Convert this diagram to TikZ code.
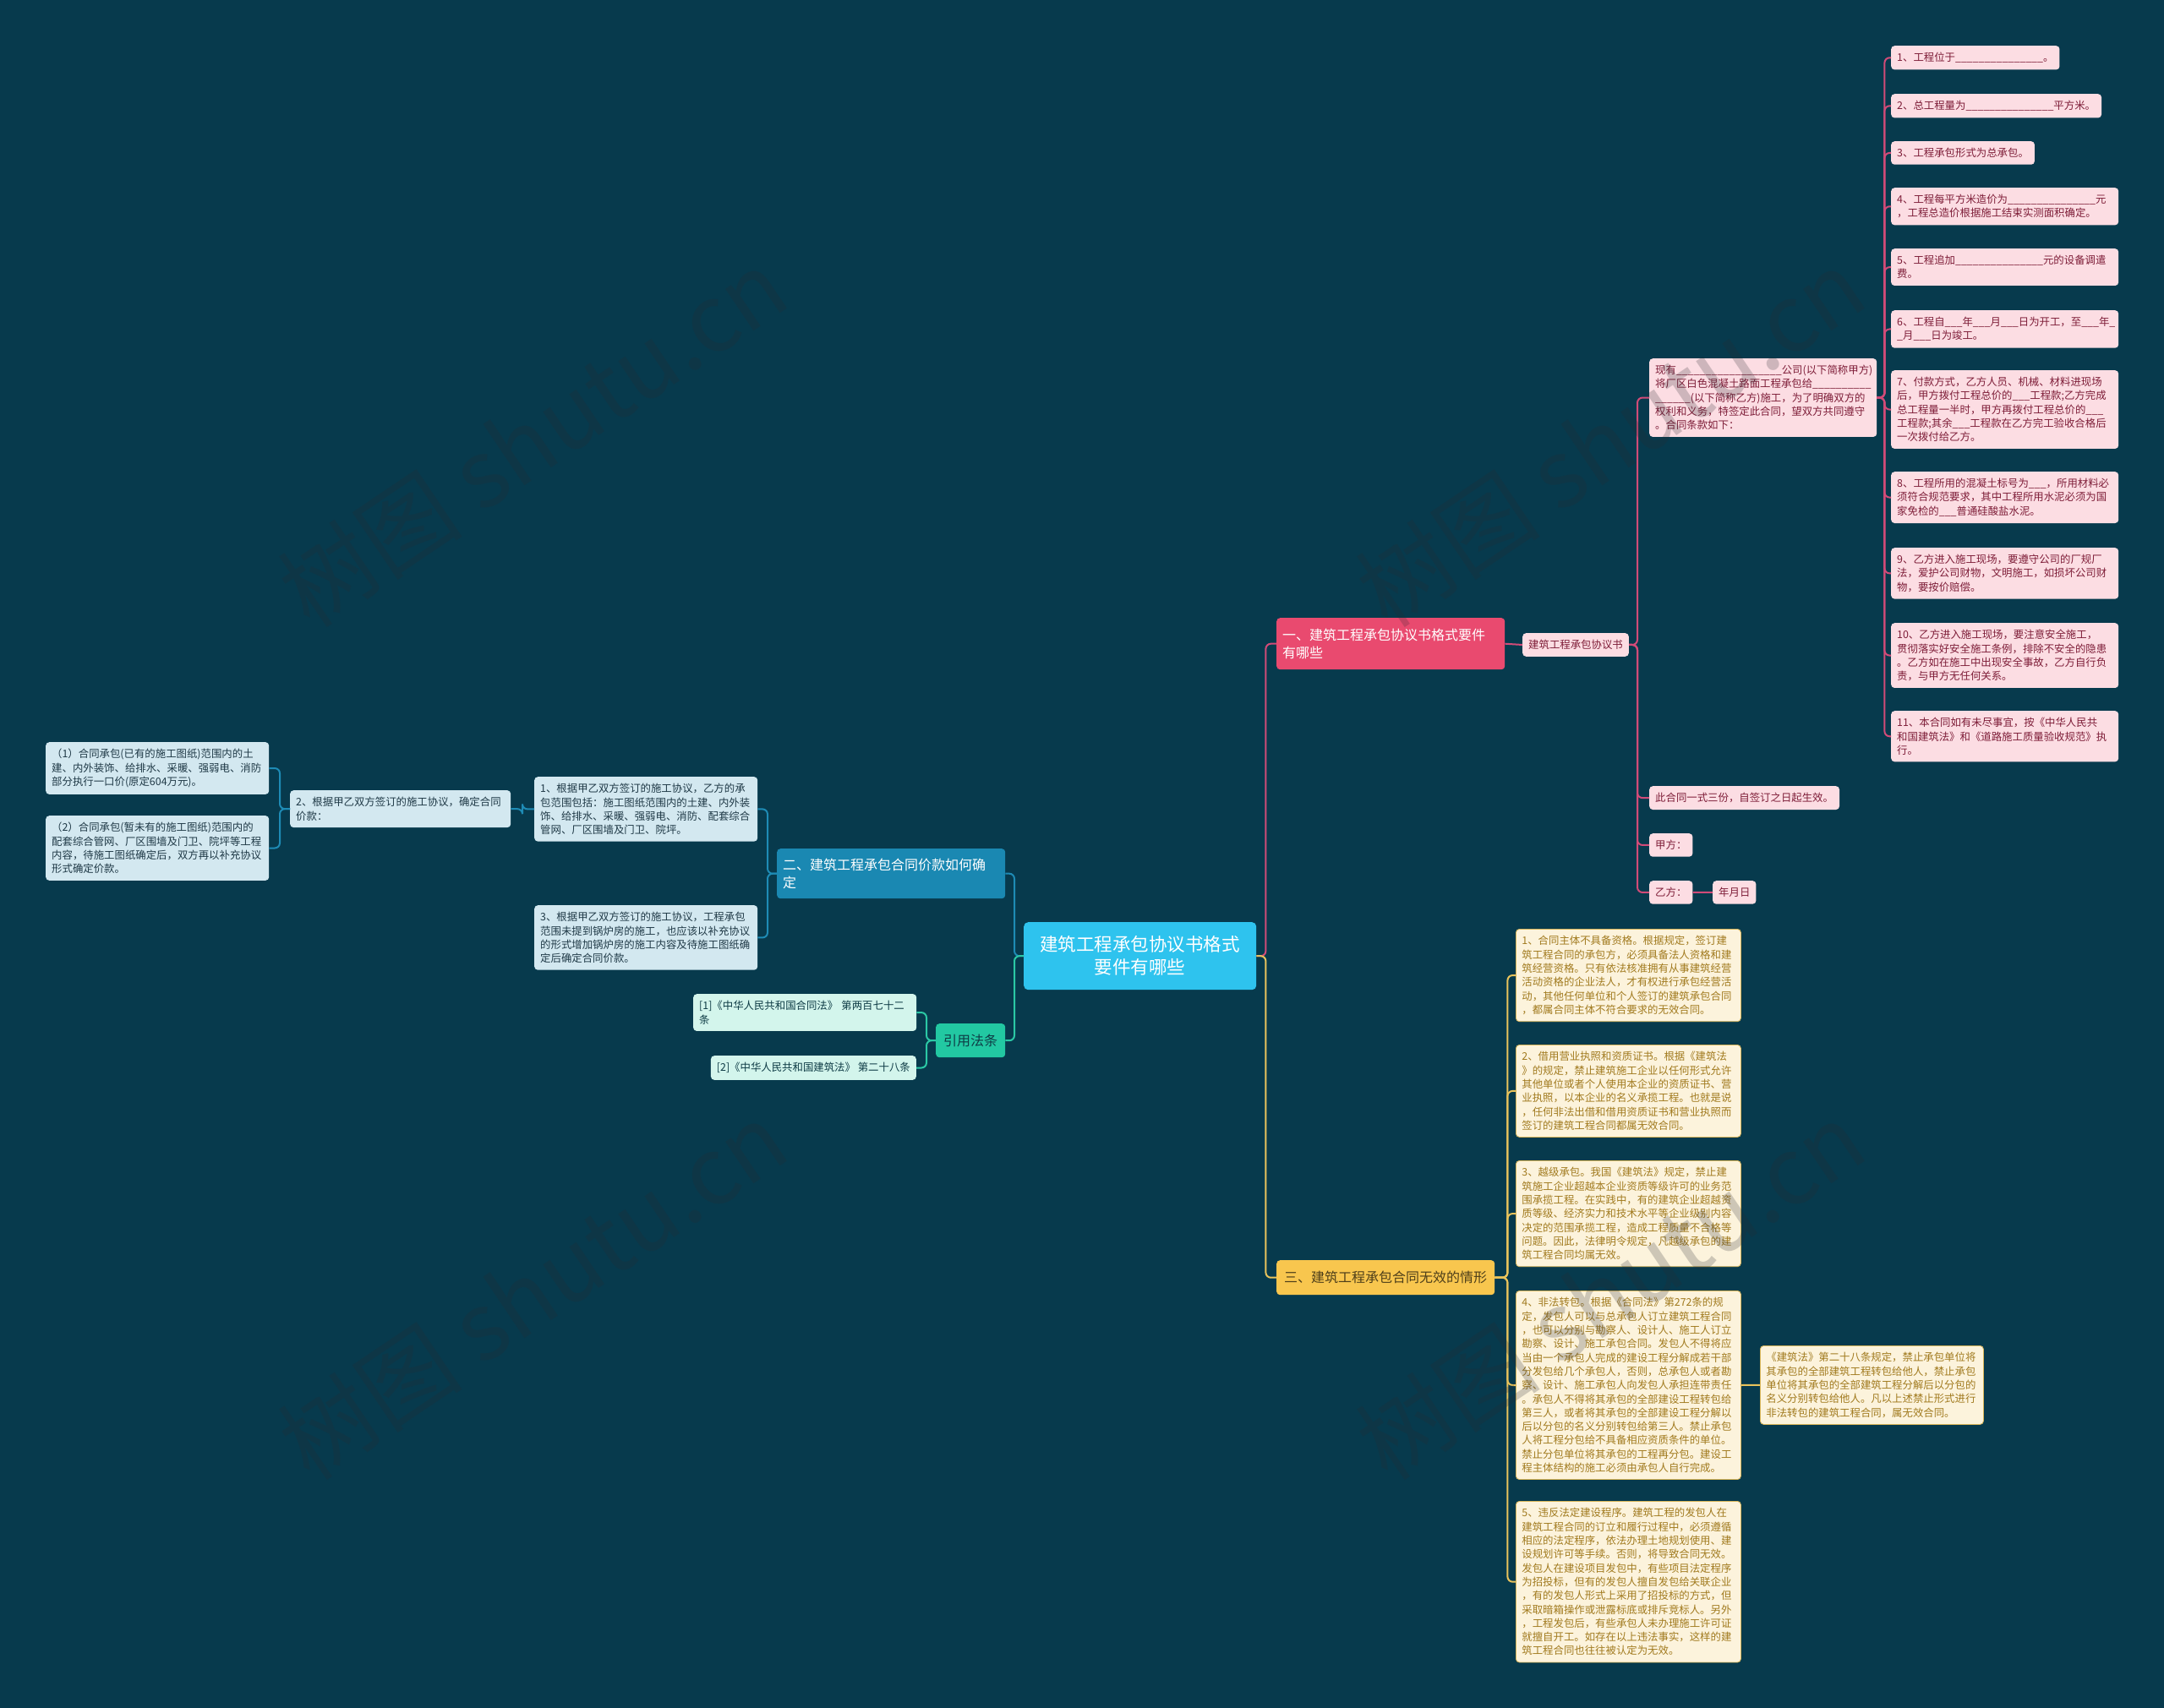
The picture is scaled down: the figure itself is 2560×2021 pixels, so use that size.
\documentclass[tikz,border=0pt]{standalone}
\usepackage{fontspec}
\setmainfont{Noto Sans CJK SC}
\ExplSyntaxOn
\cs_new:Npn \blanks #1 { \prg_replicate:nn {#1} { \textunderscore } }
\ExplSyntaxOff
\definecolor{cBg}{HTML}{073A4D}
\definecolor{cCenter}{HTML}{2EC3EE}
\definecolor{cRed}{HTML}{E94A6F}
\definecolor{cPinkFill}{HTML}{FCDDE3}
\definecolor{cPinkText}{HTML}{7E1D38}
\definecolor{cPinkLine}{HTML}{D14B78}
\definecolor{cYel}{HTML}{F8C64E}
\definecolor{cYelText}{HTML}{4E3F1A}
\definecolor{cGoldFill}{HTML}{FCF3DC}
\definecolor{cGoldText}{HTML}{A17A1E}
\definecolor{cGoldBorder}{HTML}{D9B65A}
\definecolor{cGoldLine}{HTML}{E9C35C}
\definecolor{cBlueHead}{HTML}{1A88B2}
\definecolor{cBlueFill}{HTML}{D3E8F0}
\definecolor{cBlueText}{HTML}{1F3946}
\definecolor{cBlueLine}{HTML}{1E8BB5}
\definecolor{cGreen}{HTML}{22C8A2}
\definecolor{cGreenFill}{HTML}{D3F5EC}
\definecolor{cGreenText}{HTML}{0E3B45}
\definecolor{cGreenLine}{HTML}{2BC8A5}
\definecolor{cMark}{HTML}{2A2A30}
\tikzset{
  mmbase/.style={rounded corners=4pt, anchor=north west, align=left, inner xsep=7pt, inner ysep=8pt, font=\fontsize{12.4}{16.3}\selectfont},
  pinkbox/.style={mmbase, fill=cPinkFill, text=cPinkText},
  goldbox/.style={mmbase, fill=cGoldFill, text=cGoldText, draw=cGoldBorder, line width=0.8pt},
  bluebox/.style={mmbase, fill=cBlueFill, text=cBlueText},
  greenbox/.style={mmbase, fill=cGreenFill, text=cGreenText},
  headbox/.style={rounded corners=4pt, anchor=north west, align=left, inner xsep=7pt, inner ysep=4pt, font=\fontsize{16}{20.5}\selectfont},
  plink/.style={draw=cPinkLine, line width=2pt, rounded corners=6pt},
  glink/.style={draw=cGoldLine, line width=2pt, rounded corners=6pt},
  blink/.style={draw=cBlueLine, line width=2pt, rounded corners=6pt},
  tlink/.style={draw=cGreenLine, line width=2pt, rounded corners=6pt},
  wmark/.style={rotate=34, text=cMark, opacity=0.22, font=\fontsize{110}{110}\selectfont}
}
\begin{document}
\begin{tikzpicture}[x=1pt,y=-1pt]
\fill[cBg] (0,0) rectangle (2560,2021);
\useasboundingbox (0,0) rectangle (2560,2021);

% centre
\node[rounded corners=5pt, anchor=north west, fill=cCenter, text=white, align=center,
  minimum width=275pt, minimum height=80pt, font=\fontsize{21.5}{27}\selectfont]
  (center) at (1211,1091) {建筑工程承包协议书格式\\要件有哪些};

% headings
\node[headbox, fill=cRed, text=white, text width=256pt, minimum height=61pt] (red) at (1510,731)
  {一、建筑工程承包协议书格式要件\\有哪些};
\node[headbox, fill=cYel, text=cYelText, minimum width=258pt, minimum height=41pt] (yel) at (1510,1491)
  {三、建筑工程承包合同无效的情形};
\node[headbox, fill=cBlueHead, text=white, text width=256pt, minimum height=59pt] (h2) at (919,1004)
  {二、建筑工程承包合同价款如何确\\定};
\node[headbox, fill=cGreen, text=cGreenText, align=center, minimum width=82pt, minimum height=40pt] (law) at (1107,1211)
  {引用法条};

% branch one
\node[pinkbox] (xys) at (1801,749) {建筑工程承包协议书};
\node[pinkbox, text width=255pt] (xy) at (1951,424)
  {现有\blanks{18}公司(以下简称甲方)\\将厂区白色混凝土路面工程承包给\blanks{10}\\\blanks{6}(以下简称乙方)施工，为了明确双方的\\权利和义务，特签定此合同，望双方共同遵守\\。合同条款如下：};
\node[pinkbox] (hts) at (1951,930) {此合同一式三份，自签订之日起生效。};
\node[pinkbox] (jf) at (1951,986) {甲方：};
\node[pinkbox] (yf) at (1951,1042) {乙方：};
\node[pinkbox] (nyr) at (2026,1042) {年月日};

\node[pinkbox] (p1) at (2237,54) {1、工程位于\blanks{15}。};
\node[pinkbox] (p2) at (2237,111) {2、总工程量为\blanks{15}平方米。};
\node[pinkbox] (p3) at (2237,167) {3、工程承包形式为总承包。};
\node[pinkbox, text width=255pt] (p4) at (2237,222) {4、工程每平方米造价为\blanks{15}元\\，工程总造价根据施工结束实测面积确定。};
\node[pinkbox, text width=255pt] (p5) at (2237,294) {5、工程追加\blanks{15}元的设备调遣\\费。};
\node[pinkbox, text width=255pt] (p6) at (2237,367) {6、工程自\blanks{3}年\blanks{3}月\blanks{3}日为开工，至\blanks{3}年\blanks{1}\\\blanks{1}月\blanks{3}日为竣工。};
\node[pinkbox, text width=255pt] (p7) at (2237,438) {7、付款方式，乙方人员、机械、材料进现场\\后，甲方拨付工程总价的\blanks{3}工程款;乙方完成\\总工程量一半时，甲方再拨付工程总价的\blanks{3}\\工程款;其余\blanks{3}工程款在乙方完工验收合格后\\一次拨付给乙方。};
\node[pinkbox, text width=255pt] (p8) at (2237,558) {8、工程所用的混凝土标号为\blanks{3}，所用材料必\\须符合规范要求，其中工程所用水泥必须为国\\家免检的\blanks{3}普通硅酸盐水泥。};
\node[pinkbox, text width=255pt] (p9) at (2237,648) {9、乙方进入施工现场，要遵守公司的厂规厂\\法，爱护公司财物，文明施工，如损坏公司财\\物，要按价赔偿。};
\node[pinkbox, text width=255pt] (p10) at (2237,737) {10、乙方进入施工现场，要注意安全施工，\\贯彻落实好安全施工条例，排除不安全的隐患\\。乙方如在施工中出现安全事故，乙方自行负\\责，与甲方无任何关系。};
\node[pinkbox, text width=255pt] (p11) at (2237,841) {11、本合同如有未尽事宜，按《中华人民共\\和国建筑法》和《道路施工质量验收规范》执\\行。};

% branch three
\node[goldbox, text width=252pt] (y1) at (1793,1099) {1、合同主体不具备资格。根据规定，签订建\\筑工程合同的承包方，必须具备法人资格和建\\筑经营资格。只有依法核准拥有从事建筑经营\\活动资格的企业法人，才有权进行承包经营活\\动，其他任何单位和个人签订的建筑承包合同\\，都属合同主体不符合要求的无效合同。};
\node[goldbox, text width=252pt] (y2) at (1793,1236) {2、借用营业执照和资质证书。根据《建筑法\\》的规定，禁止建筑施工企业以任何形式允许\\其他单位或者个人使用本企业的资质证书、营\\业执照，以本企业的名义承揽工程。也就是说\\，任何非法出借和借用资质证书和营业执照而\\签订的建筑工程合同都属无效合同。};
\node[goldbox, text width=252pt] (y3) at (1793,1373) {3、越级承包。我国《建筑法》规定，禁止建\\筑施工企业超越本企业资质等级许可的业务范\\围承揽工程。在实践中，有的建筑企业超越资\\质等级、经济实力和技术水平等企业级别内容\\决定的范围承揽工程，造成工程质量不合格等\\问题。因此，法律明令规定，凡越级承包的建\\筑工程合同均属无效。};
\node[goldbox, text width=252pt] (y4) at (1793,1527) {4、非法转包。根据《合同法》第272条的规\\定，发包人可以与总承包人订立建筑工程合同\\，也可以分别与勘察人、设计人、施工人订立\\勘察、设计、施工承包合同。发包人不得将应\\当由一个承包人完成的建设工程分解成若干部\\分发包给几个承包人，否则，总承包人或者勘\\察、设计、施工承包人向发包人承担连带责任\\。承包人不得将其承包的全部建设工程转包给\\第三人，或者将其承包的全部建设工程分解以\\后以分包的名义分别转包给第三人。禁止承包\\人将工程分包给不具备相应资质条件的单位。\\禁止分包单位将其承包的工程再分包。建设工\\程主体结构的施工必须由承包人自行完成。};
\node[goldbox, text width=252pt] (y5) at (1793,1776) {5、违反法定建设程序。建筑工程的发包人在\\建筑工程合同的订立和履行过程中，必须遵循\\相应的法定程序，依法办理土地规划使用、建\\设规划许可等手续。否则，将导致合同无效。\\发包人在建设项目发包中，有些项目法定程序\\为招投标，但有的发包人擅自发包给关联企业\\，有的发包人形式上采用了招投标的方式，但\\采取暗箱操作或泄露标底或排斥竞标人。另外\\，工程发包后，有些承包人未办理施工许可证\\就擅自开工。如存在以上违法事实，这样的建\\筑工程合同也往往被认定为无效。};
\node[goldbox, text width=250pt] (y4c) at (2082,1592) {《建筑法》第二十八条规定，禁止承包单位将\\其承包的全部建筑工程转包给他人，禁止承包\\单位将其承包的全部建筑工程分解后以分包的\\名义分别转包给他人。凡以上述禁止形式进行\\非法转包的建筑工程合同，属无效合同。};

% branch two
\node[bluebox, text width=250pt] (b4) at (632,919) {1、根据甲乙双方签订的施工协议，乙方的承\\包范围包括：施工图纸范围内的土建、内外装\\饰、给排水、采暖、强弱电、消防、配套综合\\管网、厂区围墙及门卫、院坪。};
\node[bluebox, text width=250pt] (b5) at (632,1071) {3、根据甲乙双方签订的施工协议，工程承包\\范围未提到锅炉房的施工，也应该以补充协议\\的形式增加锅炉房的施工内容及待施工图纸确\\定后确定合同价款。};
\node[bluebox, text width=247pt] (b3) at (343,935) {2、根据甲乙双方签订的施工协议，确定合同\\价款：};
\node[bluebox, text width=250pt] (b1) at (54,878) {（1）合同承包(已有的施工图纸)范围内的土\\建、内外装饰、给排水、采暖、强弱电、消防\\部分执行一口价(原定604万元)。};
\node[bluebox, text width=250pt] (b2) at (54,965) {（2）合同承包(暂未有的施工图纸)范围内的\\配套综合管网、厂区围墙及门卫、院坪等工程\\内容，待施工图纸确定后，双方再以补充协议\\形式确定价款。};

% laws
\node[greenbox, text width=250pt] (g1) at (820,1176) {[1]《中华人民共和国合同法》 第两百七十二\\条};
\node[greenbox, anchor=north east] (g2) at (1084,1249) {[2]《中华人民共和国建筑法》 第二十八条};

% connectors right
\draw[plink] (center.east) -- ++(11,0) |- (red.west);
\draw[glink] (center.east) -- ++(11,0) |- (yel.west);
\draw[plink] (red.east) -- (xys.west);
\foreach \n in {xy,hts,jf,yf} \draw[plink] (xys.east) -- ++(10,0) |- (\n.west);
\draw[plink] (yf.east) -- (nyr.west);
\foreach \n in {p1,p2,p3,p4,p5,p6,p7,p8,p9,p10,p11} \draw[plink] (xy.east) -- ++(9,0) |- (\n.west);
\foreach \n in {y1,y2,y3,y4,y5} \draw[glink] (yel.east) -- ++(15,0) |- (\n.west);
\draw[glink] (y4.east) -- (y4c.west);

% connectors left
\draw[blink] (center.west) -- ++(-11,0) |- (h2.east);
\draw[tlink] (center.west) -- ++(-11,0) |- (law.east);
\foreach \n in {b4,b5} \draw[blink] (h2.west) -- ++(-11,0) |- (\n.east);
\draw[blink] (b4.west) -- ++(-14,0) |- (b3.east);
\foreach \n in {b1,b2} \draw[blink] (b3.west) -- ++(-12,0) |- (\n.east);
\foreach \n in {g1,g2} \draw[tlink] (law.west) -- ++(-11,0) |- (\n.east);

% watermarks
\node[wmark] (wm1) at (630,518) {树图 shutu.cn};
\node[wmark] (wm2) at (630,1527) {树图 shutu.cn};
\node[wmark] (wm3) at (1905,518) {树图 shutu.cn};
\node[wmark] (wm4) at (1905,1527) {树图 shutu.cn};
\end{tikzpicture}
\end{document}
